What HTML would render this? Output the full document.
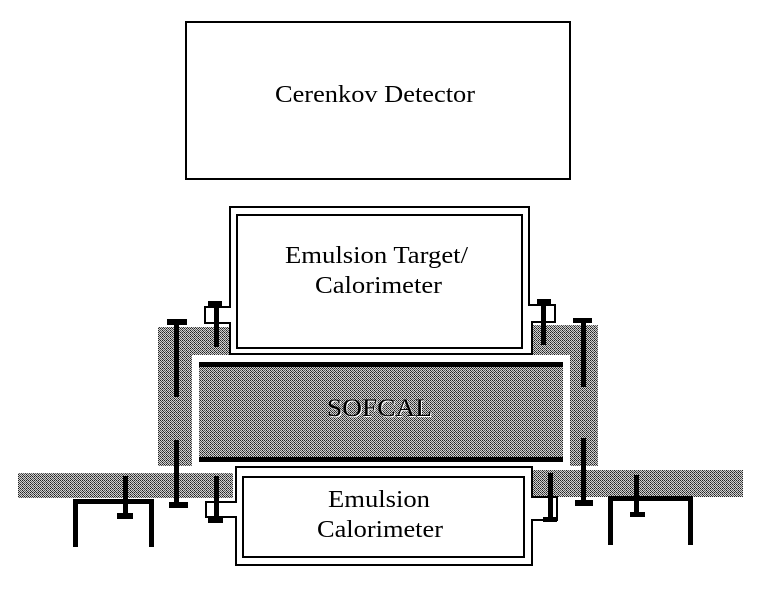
<!DOCTYPE html>
<html><head><meta charset="utf-8"><style>
html,body{margin:0;padding:0;background:#fff;}
svg{display:block;}
text{font-family:"Liberation Serif",serif;fill:#000;}
</style></head><body>
<svg width="759" height="590" viewBox="0 0 759 590" xmlns="http://www.w3.org/2000/svg">
<defs>
<pattern id="dith" width="4" height="4" patternUnits="userSpaceOnUse">
<rect width="4" height="4" fill="#d0d0d0"/>
<rect x="0" y="0" width="1" height="1" fill="#222"/>
<rect x="2" y="0" width="1" height="1" fill="#222"/>
<rect x="1" y="1" width="1" height="1" fill="#444"/>
<rect x="3" y="1" width="1" height="1" fill="#666"/>
<rect x="0" y="2" width="1" height="1" fill="#555"/>
<rect x="2" y="2" width="1" height="1" fill="#222"/>
<rect x="1" y="3" width="1" height="1" fill="#666"/>
<rect x="3" y="3" width="1" height="1" fill="#333"/>
</pattern>
</defs>
<rect width="759" height="590" fill="#fff"/>

<!-- Cerenkov detector -->
<rect x="186" y="22" width="384" height="157" fill="#fff" stroke="#000" stroke-width="2"/>
<text x="275" y="102" font-size="24" textLength="200" lengthAdjust="spacingAndGlyphs">Cerenkov Detector</text>

<!-- grey regions -->
<g fill="url(#dith)">
<rect x="158" y="327" width="34" height="139"/>
<rect x="158" y="327" width="72" height="28"/>
<rect x="570" y="325" width="28" height="141"/>
<rect x="532" y="325" width="66" height="30"/>
<rect x="199" y="367" width="364" height="91"/>
<rect x="18" y="473" width="215" height="25"/>
<rect x="532" y="470" width="211" height="27"/>
</g>

<!-- SOFCAL bars -->
<rect x="199" y="362" width="364" height="5" fill="#000"/>
<rect x="199" y="457" width="364" height="5" fill="#000"/>
<text x="328" y="417" font-size="25" textLength="105" lengthAdjust="spacingAndGlyphs" style="fill:#fff">SOFCAL</text>
<text x="327" y="416" font-size="25" textLength="105" lengthAdjust="spacingAndGlyphs">SOFCAL</text>

<!-- Emulsion target box -->
<path d="M230,207 H529 V305 H555 V322 H532 V354 H230 V323 H205 V307 H230 Z" fill="#fff" stroke="#000" stroke-width="2"/>
<rect x="237" y="215" width="285" height="133" fill="#fff" stroke="#000" stroke-width="2"/>
<text x="285" y="263" font-size="24" textLength="183" lengthAdjust="spacingAndGlyphs">Emulsion Target/</text>
<text x="315" y="293" font-size="24" textLength="127" lengthAdjust="spacingAndGlyphs">Calorimeter</text>

<!-- Emulsion calorimeter box -->
<path d="M236,467 H532 V497 H557 V520 H532 V565 H236 V517 H206 V502 H236 Z" fill="#fff" stroke="#000" stroke-width="2"/>
<rect x="243" y="477" width="281" height="80" fill="#fff" stroke="#000" stroke-width="2"/>
<text x="328" y="507" font-size="24" textLength="102" lengthAdjust="spacingAndGlyphs">Emulsion</text>
<text x="317" y="537" font-size="24" textLength="126" lengthAdjust="spacingAndGlyphs">Calorimeter</text>

<g fill="#000">
<!-- top-left clamp bolt -->
<rect x="208" y="301" width="14" height="5"/>
<rect x="214" y="301" width="5" height="46"/>
<!-- top-right clamp bolt -->
<rect x="537" y="299" width="14" height="5"/>
<rect x="541" y="299" width="5" height="46"/>
<!-- bottom-left clamp bolt -->
<rect x="214" y="476" width="5" height="46"/>
<rect x="208" y="518" width="15" height="5"/>
<!-- bottom-right clamp bolt -->
<rect x="548" y="473" width="5" height="48"/>
<rect x="543" y="517" width="14" height="5"/>

<!-- left big T-bolt -->
<rect x="167" y="319" width="20" height="6"/>
<rect x="174" y="319" width="5" height="78"/>
<rect x="174" y="440" width="5" height="65"/>
<rect x="169" y="502" width="19" height="6"/>
<!-- right big T-bolt -->
<rect x="573" y="318" width="19" height="5"/>
<rect x="581" y="318" width="5" height="69"/>
<rect x="581" y="438" width="5" height="66"/>
<rect x="575" y="500" width="18" height="6"/>

<!-- left stand -->
<rect x="73" y="499" width="81" height="5"/>
<rect x="73" y="499" width="5" height="48"/>
<rect x="149" y="499" width="5" height="48"/>
<rect x="123" y="476" width="5" height="41"/>
<rect x="117" y="513" width="16" height="6"/>
<!-- right stand -->
<rect x="608" y="496" width="85" height="5"/>
<rect x="608" y="496" width="5" height="49"/>
<rect x="688" y="496" width="5" height="49"/>
<rect x="634" y="475" width="5" height="42"/>
<rect x="630" y="512" width="15" height="5"/>
</g>
</svg>
</body></html>
